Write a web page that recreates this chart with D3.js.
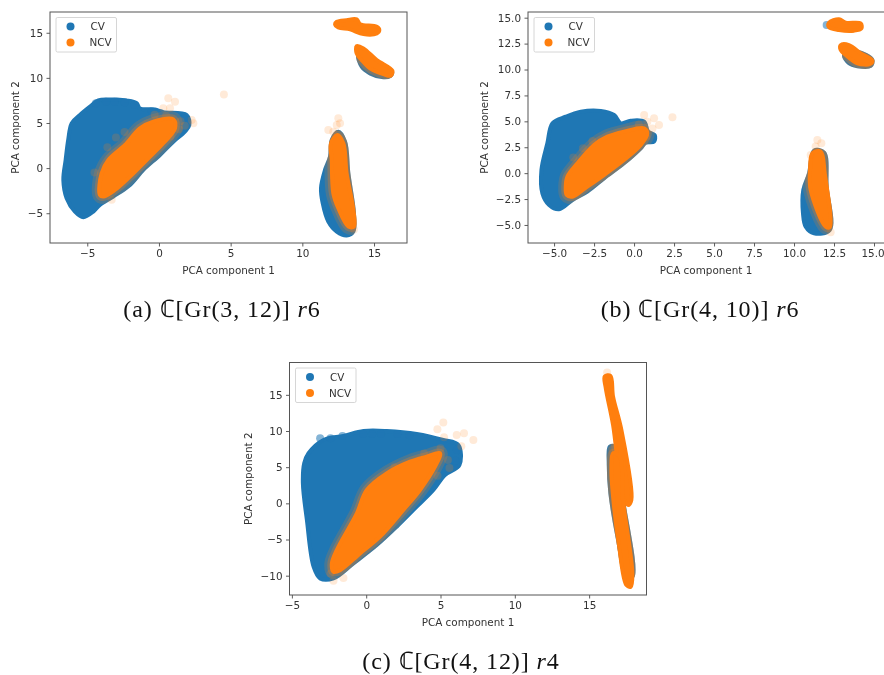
<!DOCTYPE html>
<html><head><meta charset="utf-8">
<script src="https://cdn.jsdelivr.net/npm/d3@7"></script>
<style>
html,body{margin:0;padding:0;background:#fff;overflow:hidden}
svg{display:block;filter:blur(0.55px)}
text{font-family:"DejaVu Sans",sans-serif;fill:#333}
.cap{font-family:"Liberation Serif",serif;font-size:24px;fill:#111;letter-spacing:.9px}
</style></head><body><svg id="c" width="884" height="675"></svg>
<script>
const seriesNames = ["CV","NCV"];
const axisTitles = ["PCA component 1","PCA component 2"];
const COLORS = ["#1f77b4","#ff7f0e"];

// Panel (a) – cloud outlines and loose points, data units
const aTicksX=[-5,0,5,10,15], aTicksY=[-5,0,5,10,15];
const aCvMain=[[-6.09,4.96],[-5.51,5.89],[-4.81,6.81],[-4.23,7.5],[-3.53,7.6],[-2.95,7.6],[-2.26,7.5],[-1.56,7.2],[-1.33,6.62],[-0.28,6.5],[0.3,6.2],[1.93,5.89],[2.12,4.78],[1.81,4.04],[1.0,2.93],[0.07,1.46],[-1.09,-0.2],[-2.02,-1.86],[-3.19,-3.15],[-4.12,-4.08],[-4.58,-4.82],[-5.28,-5.44],[-5.86,-4.82],[-6.44,-3.34],[-6.67,-1.31],[-6.51,0.9],[-6.33,3.12]];
const aCvLow=[[12.51,4.04],[12.98,2.93],[13.21,-0.57],[13.6,-5.0],[13.56,-7.03],[13.09,-7.47],[12.4,-7.03],[11.81,-5.92],[11.42,-3.89],[11.3,-2.23],[11.58,-0.2],[11.93,1.27],[12.05,3.12]];
const aCvArc=[[13.91,12.53],[14.14,11.24],[14.72,10.5],[15.65,10.06],[16.12,10.2],[16.26,10.68],[15.19,11.79]];
const aNcvMain=[[-4.12,-2.97],[-4.0,-0.57],[-3.53,0.9],[-2.37,2.56],[-1.33,4.41],[-0.4,5.15],[1.0,5.41],[1.12,4.41],[0.3,2.75],[-0.86,0.9],[-2.02,-0.94],[-3.07,-2.42],[-3.88,-3.15]];
const aNcvLow=[[12.44,3.67],[12.86,2.75],[13.09,-0.57],[13.56,-4.63],[13.6,-6.48],[13.21,-6.48],[12.51,-4.45],[12.16,-2.79],[12.05,0.9],[12.0,2.75]];
const aNcvTop=[[12.4,16.22],[13.09,16.4],[13.79,16.48],[14.02,15.96],[15.19,15.66],[15.37,15.3],[15.19,14.93],[14.26,14.85],[13.33,15.37],[12.51,15.59],[12.28,15.96]];
const aNcvArc=[[13.79,13.52],[14.26,13.27],[15.19,11.97],[16.28,10.79],[16.16,10.24],[15.65,10.42],[14.72,11.05],[14.14,11.97],[13.79,12.71]];
const aCvPts=[[-4.4,7.2],[-3.7,7.35],[-3.1,7.35],[-2.4,7.3],[-1.7,7.0],[-0.5,6.3],[0.1,6.1],[0.9,5.7],[1.7,5.5]];
const aGreyPts=[[-3.0,3.4],[-2.4,4.0],[-3.6,2.3],[-4.5,-0.5],[1.5,5.2],[1.8,4.7],[1.4,4.3],[0.5,5.8],[-0.3,5.9],[0.8,3.5]];
const aOutliers=[[4.53,8.17],[0.65,7.73],[1.12,7.36],[0.77,6.62],[0.3,6.62],[2.28,5.33],[2.4,4.96],[-3.3,-3.5],[12.51,5.52],[12.4,4.78],[11.81,4.22],[12.16,4.04],[12.63,4.96],[13.6,-6.8]];

// Panel (b)
const bTicksX=[-5,-2.5,0,2.5,5,7.5,10,12.5,15], bTicksY=[-5,-2.5,0,2.5,5,7.5,10,12.5,15];
const bCvMain=[[-5.1,4.81],[-4.27,5.45],[-3.33,5.93],[-2.08,6.0],[-1.25,5.61],[-0.83,4.81],[-0.21,5.06],[0.63,4.97],[0.88,4.0],[1.29,3.68],[1.25,3.04],[0.73,2.94],[0.42,2.4],[-0.63,0.95],[-1.88,-0.5],[-2.92,-1.78],[-3.85,-2.59],[-4.69,-3.49],[-5.31,-3.07],[-5.73,-1.95],[-5.79,0.31],[-5.42,2.88]];
const bCvLow=[[11.25,2.17],[11.88,1.98],[12.04,-1.3],[12.23,-5.48],[11.25,-5.8],[10.73,-5.16],[10.56,-3.87],[10.58,-1.62],[10.94,-0.02]];
const bCvArc=[[13.13,11.4],[13.44,10.6],[13.96,10.31],[14.79,10.34],[14.9,10.92],[13.96,11.72]];
const bNcvMain=[[-4.27,-1.3],[-4.17,-0.34],[-3.54,0.95],[-2.5,2.72],[-1.67,3.52],[-0.63,4.0],[0.63,4.32],[0.83,3.84],[0.42,2.72],[-0.63,1.27],[-1.88,-0.18],[-2.92,-1.3],[-3.85,-2.27],[-4.21,-2.11]];
const bNcvLow=[[11.15,1.91],[11.67,2.07],[11.92,-0.02],[12.23,-5.22],[11.98,-5.16],[11.04,-1.62],[11.0,0.31]];
const bNcvTop=[[12.19,14.52],[12.81,14.84],[13.23,14.52],[14.17,14.45],[14.21,13.97],[13.75,13.75],[12.81,13.81],[12.19,14.07]];
const bNcvArc=[[12.92,12.36],[13.44,12.36],[14.17,11.56],[14.9,10.85],[14.75,10.53],[13.96,10.6],[13.23,11.4],[12.92,11.88]];
const bCvPts=[[12.04,14.29],[1.05,3.35],[1.0,3.25],[-0.1,4.8],[0.4,4.75]];
const bGreyPts=[[-3.8,1.5],[-3.2,2.4],[-2.6,3.1],[0.3,4.7],[0.75,3.5]];
const bOutliers=[[0.63,5.61],[0.83,4.97],[1.56,4.65],[2.4,5.39],[1.15,4.32],[1.25,5.29],[11.46,3.2],[11.35,2.56],[11.04,1.75],[11.71,2.88],[12.29,-5.71]];

// Panel (c)
const cTicksX=[-5,0,5,10,15], cTicksY=[-10,-5,0,5,10,15];
const cCvMain=[[-4.17,5.54],[-3.88,6.92],[-2.87,8.76],[-1.53,9.32],[-0.18,10.0],[1.38,10.0],[3.4,9.6],[5.19,8.76],[6.2,8.07],[6.27,5.3],[5.3,3.92],[4.52,1.85],[3.4,-0.46],[2.05,-3.23],[0.71,-5.77],[-0.86,-8.3],[-2.2,-10.38],[-3.1,-10.38],[-3.54,-8.76],[-3.99,-2.31],[-4.26,2.77]];
const cCvStrip=[[16.39,7.84],[16.72,7.84],[17.24,0.92],[17.91,-10.15],[17.51,-10.15],[16.95,-5.07],[16.43,1.38],[16.32,5.54]];
const cNcvMain=[[-2.31,-8.3],[-1.98,-6.46],[-0.63,-1.38],[0.04,1.85],[1.38,4.15],[2.95,5.77],[4.07,6.46],[4.97,6.92],[4.63,5.07],[3.62,1.85],[2.5,-0.92],[0.93,-4.61],[-0.41,-6.92],[-1.75,-9.23],[-2.2,-9.46]];
const cNcvUpper=[[16.05,17.53],[16.43,17.62],[16.61,14.76],[17.17,10.15],[17.84,0.46],[17.62,-0.23],[17.28,0.92],[16.61,10.84],[16.12,15.91]];
const cNcvLower=[[16.61,6.92],[17.06,6.46],[17.28,0.46],[17.91,-9.69],[17.8,-11.53],[17.51,-11.3],[17.02,-6.0],[16.61,0.92],[16.5,4.61]];
const cCvPts=[[-3.1,9.0],[-2.4,9.0],[-1.6,9.3],[-0.2,9.6],[0.4,9.6],[1.0,9.6],[2.1,9.6],[2.9,9.4],[6.0,5.2],[6.0,5.9],[6.1,7.4]];
const cGreyPts=[[0.9,2.8],[1.9,5.0],[-0.1,0.1],[3.9,6.9],[5.0,7.6],[5.5,6.0],[5.6,4.9],[-2.4,-9.7],[4.8,3.8],[-1.0,-3.4]];
const cOutliers=[[5.19,11.16],[4.79,10.24],[5.24,9.13],[6.09,9.46],[6.58,9.69],[7.21,8.76],[-1.53,-10.33],[-2.2,-10.7],[16.21,18.08],[6.4,7.9]];

const panels=[
 {box:[50,407,12,243],dx:[-7.6,17.3],dy:[-8.3,17.3],tx:aTicksX,ty:aTicksY,fmt:"d",cv:[aCvMain,aCvLow,aCvArc],ncv:[aNcvMain,aNcvLow,aNcvTop,aNcvArc],cvPts:aCvPts,grey:aGreyPts,out:aOutliers,cap:["(a) ℂ[Gr(3, 12)] ","r","6"],capX:222,capY:317,yLab:14.5},
 {box:[528,886,12,243],dx:[-6.63,15.75],dy:[-6.74,15.55],tx:bTicksX,ty:bTicksY,fmt:".1f",cv:[bCvMain,bCvLow,bCvArc],ncv:[bNcvMain,bNcvLow,bNcvTop,bNcvArc],cvPts:bCvPts,grey:bGreyPts,out:bOutliers,cap:["(b) ℂ[Gr(4, 10)] ","r","6"],capX:700,capY:317,yLab:483.5},
 {box:[289.5,646.5,362.5,595],dx:[-5.16,18.86],dy:[-12.67,19.47],tx:cTicksX,ty:cTicksY,fmt:"d",cv:[cCvMain,cCvStrip],ncv:[cNcvMain,cNcvUpper,cNcvLower],cvPts:cCvPts,grey:cGreyPts,out:cOutliers,cap:["(c) ℂ[Gr(4, 12)] ","r","4"],capX:461,capY:669,yLab:247.5}
];

const svg=d3.select("#c");
panels.forEach((p,i)=>{
  const [l,r,t,b]=p.box;
  const x=d3.scaleLinear().domain(p.dx).range([l,r]);
  const y=d3.scaleLinear().domain(p.dy).range([b,t]);
  const g=svg.append("g");
  const clipId="clip"+i, cvMask="cvmask"+i;
  g.append("clipPath").attr("id",clipId).append("rect").attr("x",l).attr("y",t).attr("width",r-l).attr("height",b-t);
  const plot=g.append("g").attr("clip-path",`url(#${clipId})`);
  const blob=d3.line().x(d=>x(d[0])).y(d=>y(d[1])).curve(d3.curveCatmullRomClosed.alpha(0.5));
  // grey overlap only where the orange sits on the blue cloud
  const m=g.append("mask").attr("id",cvMask).attr("maskUnits","userSpaceOnUse").attr("x",l).attr("y",t).attr("width",r-l).attr("height",b-t);
  m.selectAll("path").data(p.cv).join("path").attr("d",blob).attr("fill","#fff").attr("stroke","#fff").attr("stroke-width",4).attr("stroke-linejoin","round");
  plot.selectAll("path.cv").data(p.cv).join("path").attr("class","cv").attr("d",blob)
    .attr("fill",COLORS[0]).attr("stroke",COLORS[0]).attr("stroke-width",4).attr("stroke-linejoin","round");
  plot.selectAll("circle.cvp").data(p.cvPts).join("circle").attr("class","cvp")
    .attr("cx",d=>x(d[0])).attr("cy",d=>y(d[1])).attr("r",4).attr("fill",COLORS[0]).attr("fill-opacity",.55);
  const over=plot.append("g").attr("mask",`url(#${cvMask})`);
  over.selectAll("circle.gr").data(p.grey).join("circle").attr("class","gr")
    .attr("cx",d=>x(d[0])).attr("cy",d=>y(d[1])).attr("r",4).attr("fill",COLORS[1]).attr("fill-opacity",.2);
  over.selectAll("path.halo").data(p.ncv).join("path").attr("class","halo").attr("d",blob)
    .attr("fill","none").attr("stroke",COLORS[1]).attr("stroke-opacity",.18).attr("stroke-width",15).attr("stroke-linejoin","round");
  over.selectAll("path.halo2").data(p.ncv).join("path").attr("class","halo2").attr("d",blob)
    .attr("fill","none").attr("stroke",COLORS[1]).attr("stroke-opacity",.28).attr("stroke-width",9).attr("stroke-linejoin","round");
  plot.selectAll("path.ncv").data(p.ncv).join("path").attr("class","ncv").attr("d",blob)
    .attr("fill",COLORS[1]).attr("stroke",COLORS[1]).attr("stroke-width",4).attr("stroke-linejoin","round");
  plot.selectAll("circle.out").data(p.out).join("circle").attr("class","out")
    .attr("cx",d=>x(d[0])).attr("cy",d=>y(d[1])).attr("r",4).attr("fill",COLORS[1]).attr("fill-opacity",.16);

  const f=d3.format(p.fmt);
  const ax=g.append("g").attr("transform",`translate(0,${b})`).call(d3.axisBottom(x).tickValues(p.tx).tickFormat(f).tickSize(3.5).tickPadding(3.5));
  const ay=g.append("g").attr("transform",`translate(${l},0)`).call(d3.axisLeft(y).tickValues(p.ty).tickFormat(f).tickSize(3.5).tickPadding(3.5));
  [ax,ay].forEach(a=>{a.select(".domain").remove();a.selectAll("line").attr("stroke","#333").attr("stroke-width",.8);
    a.selectAll("text").attr("font-size",10.4).attr("fill","#333").style("font-family",'"DejaVu Sans",sans-serif');});
  ax.selectAll("text").filter(d=>x(d)>860).attr("dx",-1.5);
  g.append("rect").attr("x",l).attr("y",t).attr("width",r-l).attr("height",b-t).attr("fill","none").attr("stroke","#555").attr("stroke-width",1);

  g.append("text").attr("x",(l+r)/2 + (i===1?-1:0)).attr("y",b+30.5).attr("text-anchor","middle").attr("font-size",10.4).text(axisTitles[0]);
  g.append("text").attr("transform",`translate(${p.yLab+4},${(t+b)/2}) rotate(-90)`).attr("text-anchor","middle").attr("font-size",10.4).text(axisTitles[1]);

  const lx=l+6, ly=t+5.5;
  g.append("rect").attr("x",lx).attr("y",ly).attr("width",60.5).attr("height",34.5).attr("rx",1.5).attr("fill","#fff").attr("stroke","#ccc").attr("stroke-width",.8);
  seriesNames.forEach((n,k)=>{
    g.append("circle").attr("cx",lx+14.5).attr("cy",ly+9+16*k).attr("r",4).attr("fill",COLORS[k]);
    g.append("text").attr("x",lx+(k?33.5:34.5)).attr("y",ly+12.5+16*k).attr("font-size",10.4).text(n);
  });

  const tx=g.append("text").attr("class","cap").attr("x",p.capX).attr("y",p.capY).attr("text-anchor","middle");
  tx.append("tspan").text(p.cap[0]);
  tx.append("tspan").style("font-style","italic").text(p.cap[1]);
  tx.append("tspan").text(p.cap[2]);
});
</script></body></html>
